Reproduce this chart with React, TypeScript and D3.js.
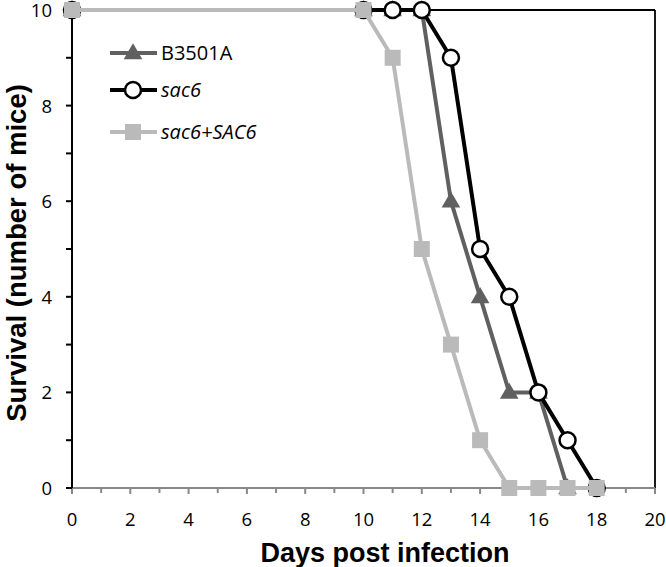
import React from "react";
import * as d3 from "d3";

const days = [0, 10, 11, 12, 13, 14, 15, 16, 17, 18];
const b3501a = [10, 10, 10, 10, 6, 4, 2, 2, 0, null];
const sac6 = [10, 10, 10, 10, 9, 5, 4, 2, 1, 0];
const sac6SAC6 = [10, 10, 9, 5, 3, 1, 0, 0, 0, 0];
const xTicks = [0, 2, 4, 6, 8, 10, 12, 14, 16, 18, 20];
const yTicks = [0, 2, 4, 6, 8, 10];
const seriesNames = ["B3501A", "sac6", "sac6+SAC6"];

const W = 666, H = 567;
const x = d3.scaleLinear().domain([0, 20]).range([72, 655]);
const y = d3.scaleLinear().domain([0, 10]).range([488, 10]);

type Pt = [number, number];
const pts = (vals: (number | null)[]): Pt[] =>
  days.map((d, i) => [d, vals[i]] as [number, number | null]).filter((p) => p[1] !== null) as Pt[];

const line = d3.line<Pt>().x((d) => x(d[0])).y((d) => y(d[1]));

const tri = d3.symbol(d3.symbolTriangle, 150)();

function Marker({ kind, cx, cy }: { kind: number; cx: number; cy: number }) {
  if (kind === 0) return <path d={tri!} transform={`translate(${cx},${cy + 1})`} fill="#606060" />;
  if (kind === 1) return <circle cx={cx} cy={cy} r={8} fill="#fff" stroke="#000" strokeWidth={2.5} />;
  return <rect x={cx - 8} y={cy - 8} width={16} height={16} fill="#bababa" />;
}

export default function App() {
  const series = [
    { name: seriesNames[0], data: pts(b3501a), color: "#606060", kind: 0 },
    { name: seriesNames[1], data: pts(sac6), color: "#000", kind: 1 },
    { name: seriesNames[2], data: pts(sac6SAC6), color: "#bababa", kind: 2 },
  ];
  const minor = d3.range(0, 21, 1);
  const minorY = d3.range(0, 11, 1);
  const legendY = [53, 90, 132];
  return (
    <svg width={W} height={H} style={{ position: "absolute", left: 0, top: 0 }}>
      <rect width={W} height={H} fill="#fff" />
      {/* frame top/right */}
      <line x1={x(0)} x2={x(20)} y1={y(10)} y2={y(10)} stroke="#000" strokeWidth={1.8} />
      <line x1={x(20)} x2={x(20)} y1={y(10)} y2={y(0)} stroke="#000" strokeWidth={1.8} />
      {/* bottom axis */}
      <line x1={x(0)} x2={x(20)} y1={y(0)} y2={y(0)} stroke="#888" strokeWidth={2} />
      {minor.map((t) => (
        <line key={"xm" + t} x1={x(t)} x2={x(t)} y1={y(0)} y2={y(0) + (t % 2 === 0 ? 6 : 5)} stroke="#888" strokeWidth={2} />
      ))}
      {xTicks.map((t) => (
        <text key={"xt" + t} x={x(t)} y={526} textAnchor="middle" fontFamily="Open Sans, sans-serif" fontSize={18.5} fill="#000">
          {t}
        </text>
      ))}
      {/* left axis */}
      <line x1={x(0)} x2={x(0)} y1={y(0)} y2={y(10)} stroke="#000" strokeWidth={2} />
      {minorY.map((t) => (
        <line key={"ym" + t} x1={x(0) - 6} x2={x(0)} y1={y(t)} y2={y(t)} stroke="#000" strokeWidth={2} />
      ))}
      {yTicks.map((t) => (
        <text key={"yt" + t} x={52} y={y(t)} dy="0.38em" textAnchor="end" fontFamily="Open Sans, sans-serif" fontSize={18.5} fill="#000">
          {t}
        </text>
      ))}
      {/* series */}
      {series.map((s) => (
        <g key={s.name}>
          <path d={line(s.data)!} fill="none" stroke={s.color} strokeWidth={4} strokeLinejoin="round" />
          {s.data.map((p, i) => (
            <Marker key={i} kind={s.kind} cx={x(p[0])} cy={y(p[1])} />
          ))}
        </g>
      ))}
      {/* legend */}
      {series.map((s, i) => (
        <g key={"lg" + i}>
          <line x1={110} x2={157} y1={legendY[i]} y2={legendY[i]} stroke={s.color} strokeWidth={4} />
          <Marker kind={s.kind} cx={133} cy={legendY[i]} />
          <text x={161} y={legendY[i]} dy="0.36em" fontFamily="Open Sans, sans-serif" fontSize={20}
            fontStyle={i === 0 ? "normal" : "italic"} fill="#000">
            {s.name}
          </text>
        </g>
      ))}
      {/* titles */}
      <text x={385} y={562} textAnchor="middle" fontFamily="Liberation Sans, Arial, sans-serif" fontWeight="bold" fontSize={27}>
        Days post infection
      </text>
      <text transform={`translate(26,253) rotate(-90)`} textAnchor="middle" fontFamily="Liberation Sans, Arial, sans-serif" fontWeight="bold" fontSize={27.5}>
        Survival (number of mice)
      </text>
    </svg>
  );
}
